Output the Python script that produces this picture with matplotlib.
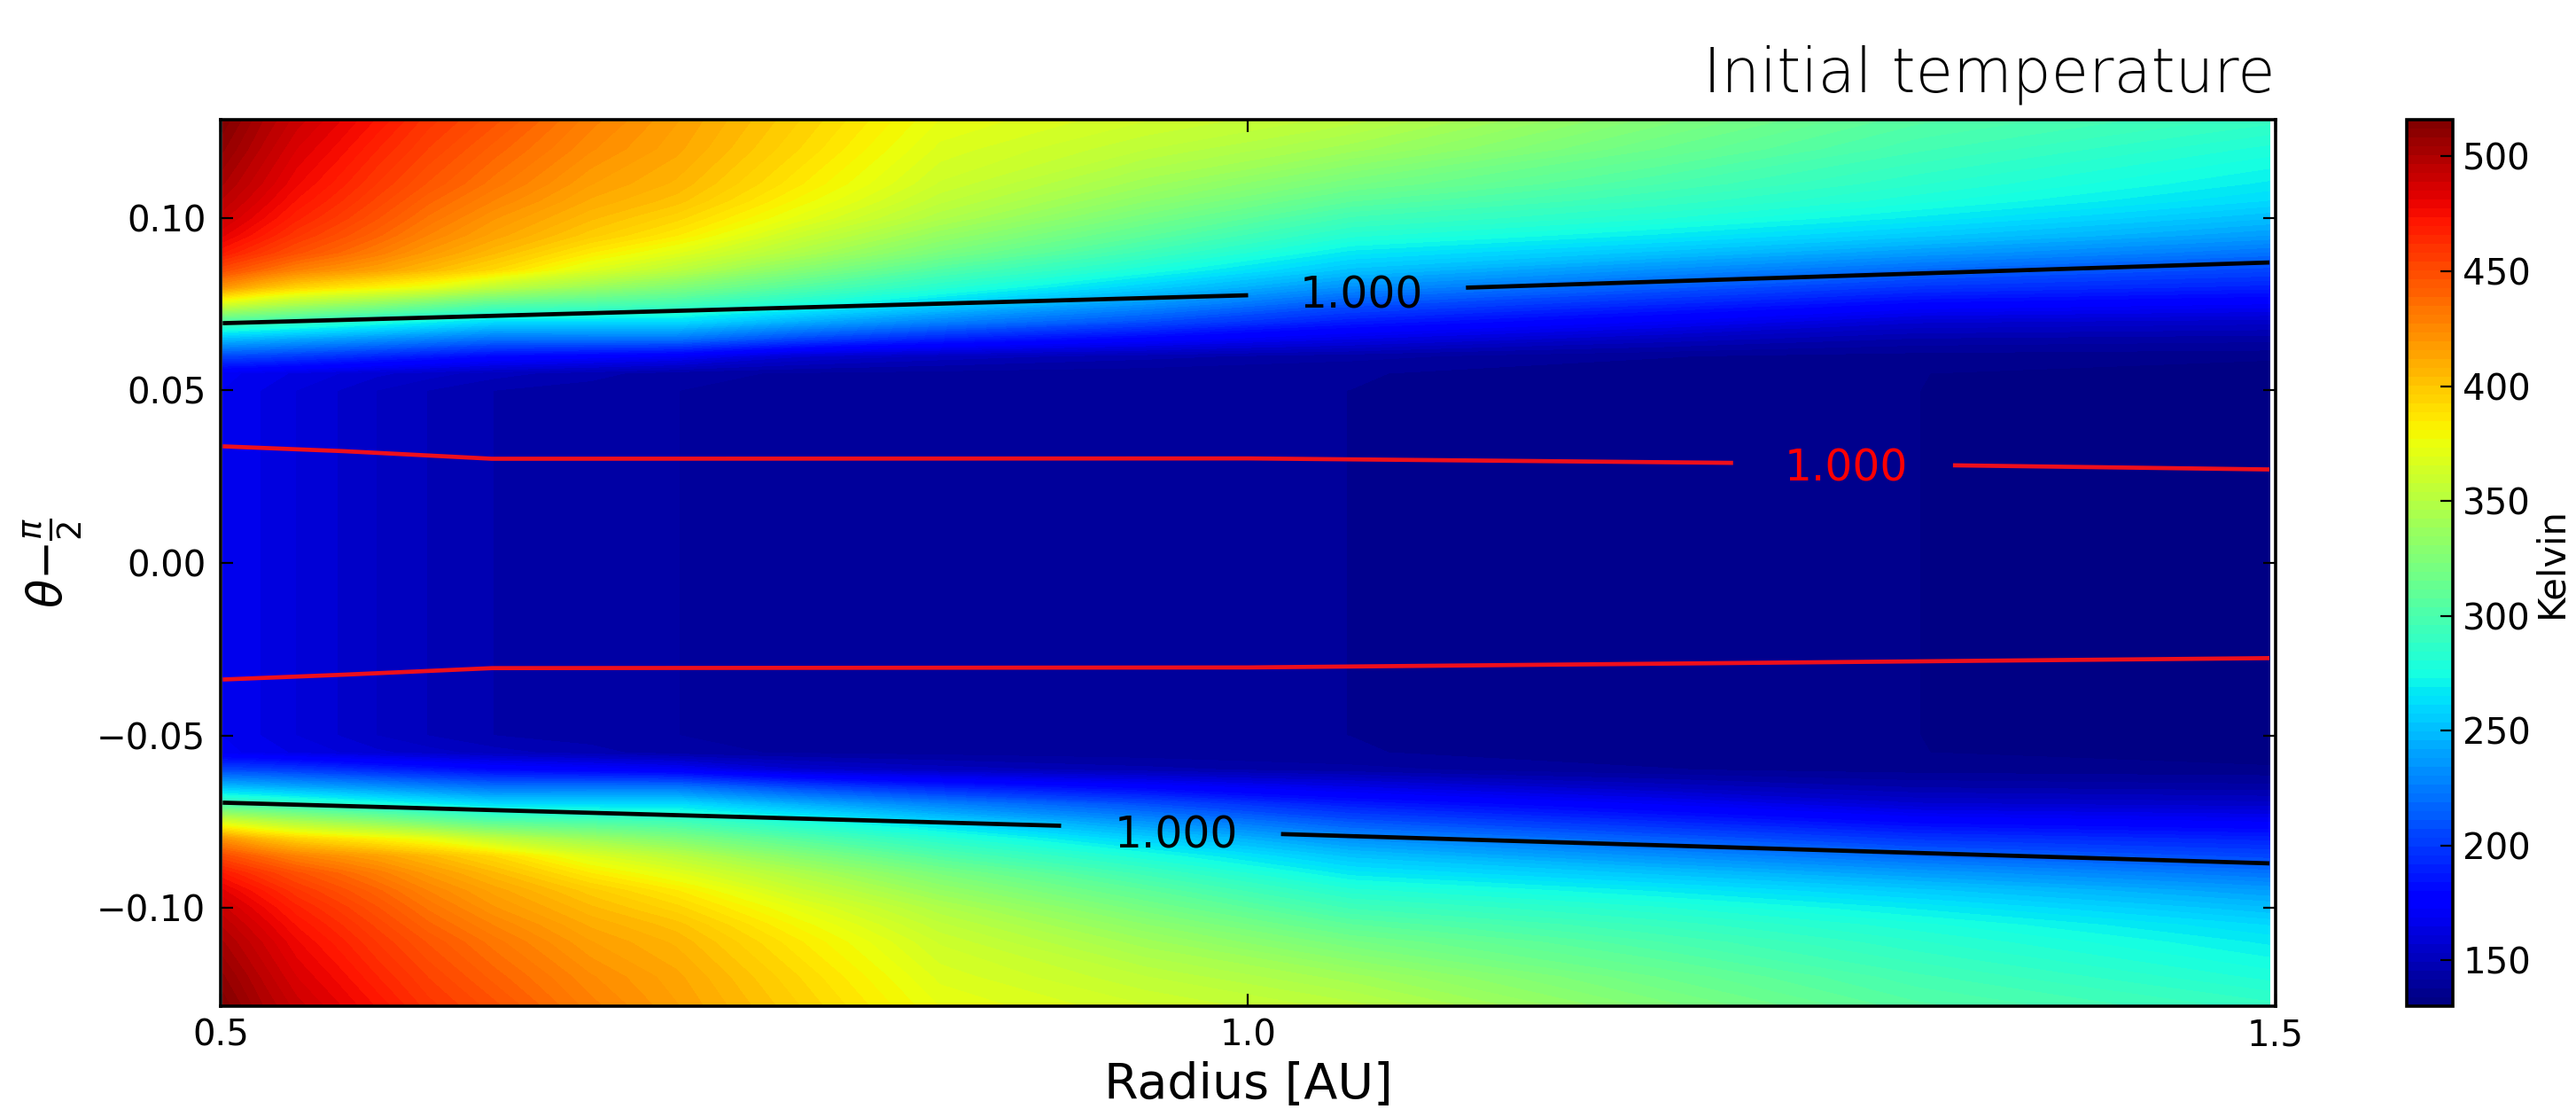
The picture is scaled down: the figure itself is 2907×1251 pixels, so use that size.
import numpy as np
import matplotlib
matplotlib.use("Agg")
import matplotlib.pyplot as plt

title = "Initial temperature"
xlabel = "Radius [AU]"
ylabel = r"$\theta{-}\frac{\pi}{2}$"
cbar_label = "Kelvin"
x_ticks = [0.5, 1.0, 1.5]
y_ticks = [-0.10, -0.05, 0.0, 0.05, 0.10]
cbar_ticks = [150, 200, 250, 300, 350, 400, 450, 500]

radius = [0.501, 0.52, 0.537, 0.557, 0.576, 0.601, 0.633, 0.68, 0.722, 0.78, 0.85, 0.95,
          1.05, 1.2, 1.325, 1.497]
theta_upper = [0.0, 0.05, 0.055, 0.06, 0.065, 0.07, 0.075, 0.08, 0.085, 0.09,
               0.095, 0.10, 0.105, 0.11, 0.12, 0.1285]
temp_upper = [
    [168.5, 168.5, 170, 205, 250, 300, 365, 420, 450, 470, 482, 490, 496, 501, 509, 515],
    [164.6, 164.6, 167, 203, 246, 295, 353, 405, 438, 458, 470, 478, 484, 489, 496, 501],
    [160.8, 160.8, 164, 200, 242, 290, 345, 395, 428, 448, 459, 467, 473, 478, 485, 491],
    [157.0, 157.0, 161, 196, 238, 284, 337, 388, 421, 439, 449, 457, 463, 468, 476, 482],
    [153.1, 153.1, 158, 192, 234, 278, 330, 382, 415, 430, 440, 447, 453, 458, 466, 473],
    [149.2, 149.2, 155, 187, 228, 271, 318, 373, 405, 418, 427, 434, 440, 446, 454, 460],
    [145.4, 145.4, 151, 180, 221, 262, 305, 355, 392, 405, 414, 420, 427, 433, 441, 448],
    [143.5, 143.5, 147, 176, 222, 262, 300, 338, 368, 385, 398, 405, 411, 416, 424, 429],
    [141.6, 141.6, 143, 172, 222, 262, 295, 325, 352, 370, 385, 394, 402, 407, 413, 416],
    [140.5, 140.5, 141, 158, 205, 245, 278, 305, 328, 347, 360, 372, 380, 386, 393, 397],
    [139.5, 139.5, 140, 152, 190, 228, 258, 283, 303, 322, 335, 347, 355, 361, 368, 373],
    [138.6, 138.6, 139, 147, 177, 208, 234, 257, 277, 294, 308, 320, 331, 340, 354, 362],
    [137.7, 137.7, 138, 143, 165, 188, 210, 233, 252, 267, 282, 295, 308, 320, 340, 352],
    [135.5, 135.5, 135.7, 138, 152, 172, 192, 213, 233, 252, 268, 281, 291, 300, 315, 325],
    [133.9, 133.9, 134, 136, 145, 158, 178, 198, 218, 238, 255, 268, 278, 285, 297, 305],
    [130.5, 130.5, 130.5, 135, 143, 155, 172, 190, 205, 222, 238, 250, 261, 268, 279, 290],
]

black_top_left_r = [0.501, 1.0]
black_top_left_t = [0.0695, 0.0776]
black_top_right_r = [1.106, 1.497]
black_top_right_t = [0.0798, 0.0871]
black_bot_left_r = [0.501, 0.909]
black_bot_left_t = [-0.0695, -0.0762]
black_bot_right_r = [1.016, 1.497]
black_bot_right_t = [-0.0786, -0.0871]
red_top_left_r = [0.501, 0.56, 0.632, 1.0, 1.236]
red_top_left_t = [0.0338, 0.0324, 0.0302, 0.0303, 0.0290]
red_top_right_r = [1.343, 1.497]
red_top_right_t = [0.0283, 0.0271]
red_bot_r = [0.501, 0.56, 0.632, 1.0, 1.497]
red_bot_t = [-0.0338, -0.0324, -0.0305, -0.0303, -0.0276]
label_text = "1.000"
label_black_pos = [(1.055, 0.0775), (0.965, -0.0790)]
label_red_pos = [(1.291, 0.0273)]

T_up = np.array(temp_upper, dtype=float)
th_up = np.array(theta_upper)
theta = np.concatenate([-th_up[::-1], th_up[1:]])
T = np.hstack([T_up[:, ::-1], T_up[:, 1:]]).T
levels = np.linspace(130, 516, 101)

fig = plt.figure(figsize=(14.535, 6.255), dpi=200)
W, H = 2907.0, 1251.0
ax = fig.add_axes([249 / W, 1 - 1135 / H, (2568 - 249) / W, (1135 - 135) / H])
cax = fig.add_axes([2716 / W, 1 - 1135 / H, (2768 - 2716) / W, (1135 - 135) / H])

cf = ax.contourf(radius, theta, T, levels=levels, cmap="jet", vmin=130, vmax=516)
for (rr, tt) in [(black_top_left_r, black_top_left_t), (black_top_right_r, black_top_right_t),
                 (black_bot_left_r, black_bot_left_t), (black_bot_right_r, black_bot_right_t)]:
    ax.plot(rr, tt, color="black", lw=1.7, solid_capstyle="butt")
for (rr, tt) in [(red_top_left_r, red_top_left_t), (red_top_right_r, red_top_right_t),
                 (red_bot_r, red_bot_t)]:
    ax.plot(rr, tt, color="#ee0f1c", lw=1.7, solid_capstyle="butt")
for (x, y) in label_black_pos:
    ax.text(x, y, label_text, color="black", fontsize=17.5, ha="center", va="center")
for (x, y) in label_red_pos:
    ax.text(x, y, label_text, color="red", fontsize=17.5, ha="center", va="center")

ax.set_xlim(0.5, 1.5)
ax.set_ylim(-0.1285, 0.1285)
ax.set_xticks(x_ticks)
ax.set_xticklabels(["0.5", "1.0", "1.5"])
ax.set_yticks(y_ticks)
ax.set_yticklabels(["\u22120.10", "\u22120.05", "0.00", "0.05", "0.10"])
ax.tick_params(direction="in", top=True, right=True, length=5, width=0.8,
               labelsize=14.5, pad=6)
ax.tick_params(axis="x", pad=5)
for s in ax.spines.values():
    s.set_linewidth(1.3)
ax.set_xlabel(xlabel, fontsize=20, labelpad=3)
ax.set_ylabel(ylabel, fontsize=19, labelpad=5)
ax.text(1.0, 1.017, title, transform=ax.transAxes, ha="right", va="bottom",
        fontsize=24.8, fontweight="light", color="black")

cb = fig.colorbar(cf, cax=cax)
cb.set_ticks(cbar_ticks)
cb.ax.tick_params(direction="in", length=5, width=0.8, labelsize=14.5, pad=4)
cb.outline.set_linewidth(1.3)
cb.set_label(cbar_label, fontsize=15, labelpad=1)

fig.savefig("out.png", dpi=200)
